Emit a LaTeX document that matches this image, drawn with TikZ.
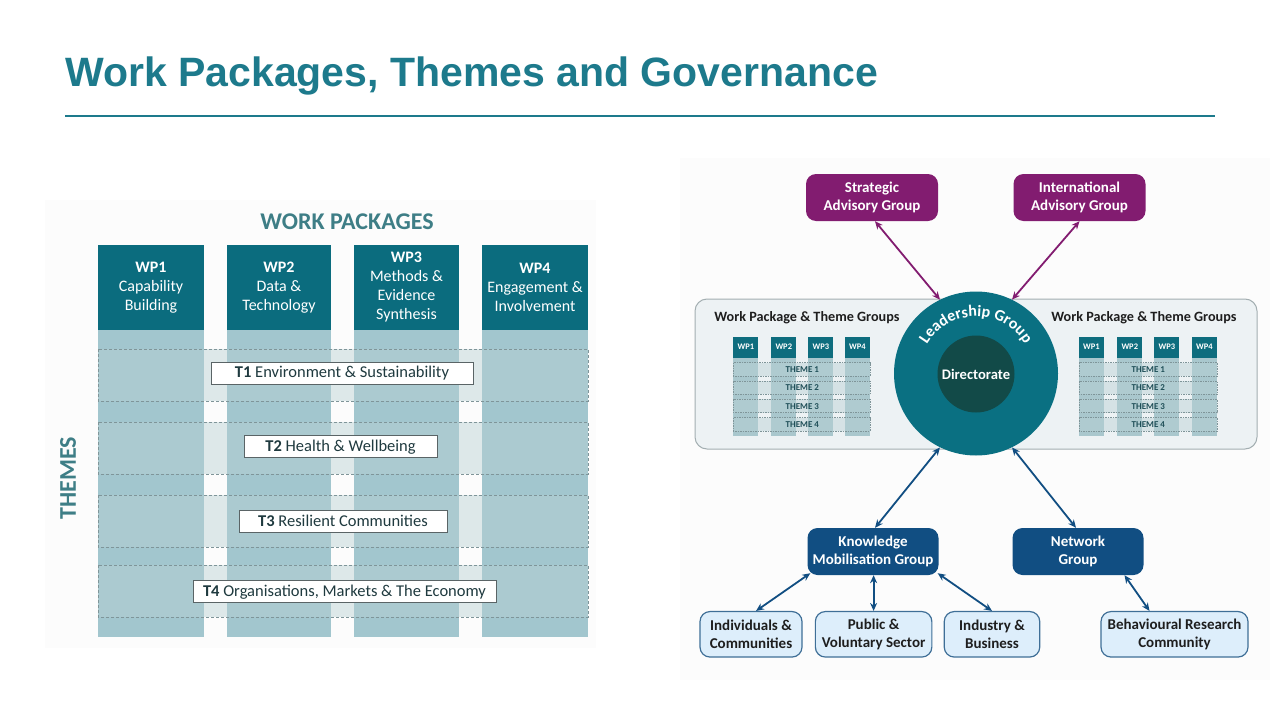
\documentclass[tikz,border=0pt]{standalone}
\usepackage{fontspec}
\setmainfont{Carlito}
\newfontfamily\titlefont{Liberation Sans}
\usetikzlibrary{arrows.meta,decorations.text}
\definecolor{titleteal}{HTML}{1D7A8C}
\definecolor{wphead}{HTML}{0B6C7E}
\definecolor{colbody}{HTML}{A2C6CE}
\definecolor{bandov}{HTML}{B8D0D4}
\definecolor{dashgray}{HTML}{7F9599}
\definecolor{wpktext}{HTML}{3E7E86}
\definecolor{themeborder}{HTML}{5A6466}
\definecolor{faint}{HTML}{FCFCFC}
\definecolor{panelfill}{HTML}{EDF2F4}
\definecolor{panelborder}{HTML}{A3AEB1}
\definecolor{minihead}{HTML}{0E6D7E}
\definecolor{minibody}{HTML}{A9C7CD}
\definecolor{minitext}{HTML}{1F4F58}
\definecolor{leadteal}{HTML}{0A7082}
\definecolor{direct}{HTML}{124A48}
\definecolor{purp}{HTML}{821C70}
\definecolor{kblue}{HTML}{114E82}
\definecolor{lightb}{HTML}{DDEEFB}
\definecolor{stakeborder}{HTML}{3F6F97}
\definecolor{darktext}{HTML}{1E1E1E}
\definecolor{themetext}{HTML}{1F3A3F}
\newcommand\fsz[2]{\fontsize{#1}{#2}\selectfont}
\newcommand\lgfont{\bfseries\fontsize{16}{16}\selectfont}
\tikzset{
  wphd/.style={fill=wphead, text=white, minimum height=85, inner sep=0, align=center, font=\fsz{16}{19}},
  themebox/.style={draw=themeborder, fill=white, line width=1, minimum height=22, inner sep=0, text=themetext, font=\fsz{16.5}{18}},
  dashl/.style={draw=dashgray, line width=.9, dash pattern=on 3 off 2},
  minidash/.style={draw=dashgray, line width=.5, dash pattern=on 1.5 off 1},
  minihd/.style={fill=minihead, text=white, minimum width=25, minimum height=21, inner sep=0, font=\bfseries\fsz{8.5}{9}},
  minitheme/.style={text=minitext, font=\bfseries\fsz{9}{10}, inner sep=0},
  grouplbl/.style={text=darktext, font=\bfseries\fsz{14.2}{16}, inner sep=0},
  govp/.style={fill=purp, text=white, rounded corners=10, minimum width=132, minimum height=47, align=center, font=\bfseries\fsz{15}{18.3}, inner sep=0},
  govb/.style={fill=kblue, text=white, rounded corners=10, minimum width=131, minimum height=47, align=center, font=\bfseries\fsz{15}{18.3}, inner sep=0},
  stake/.style={fill=lightb, draw=stakeborder, line width=1.2, rounded corners=10, minimum height=45.5, align=center, font=\bfseries\fsz{15}{18.3}, text=darktext, inner sep=0},
  parrow/.style={{Stealth[length=8,width=7]}-{Stealth[length=8,width=7]}, line width=1.8, draw=purp},
  barrow/.style={{Stealth[length=8,width=7]}-{Stealth[length=8,width=7]}, line width=1.8, draw=kblue},
}
\begin{document}
\begin{tikzpicture}[x=1pt,y=-1pt]
\useasboundingbox (0,0) rectangle (1280,720);
\fill[white] (0,0) rectangle (1280,720);
\fill[faint] (45,200) rectangle (596,648);
\fill[faint] (680,158) rectangle (1270,680);
% title
\node[anchor=base west, inner sep=0, text=titleteal, font=\titlefont\bfseries\fsz{41}{41}] (title) at (65,86.5) {Work Packages, Themes and Governance};
\coordinate (ruleL) at (65,115.5);
\coordinate (ruleR) at (1215,115.5);
\draw[titleteal, line width=2] (ruleL) -- (ruleR);
% ---------- left diagram ----------
\node[text=wpktext, font=\bfseries\fsz{24}{24}, inner sep=0] (wpk) at (347,222) {WORK PACKAGES};
\node[rotate=90, text=wpktext, font=\bfseries\fsz{24}{24}, inner sep=0] (themes) at (68,478) {THEMES};
\foreach \a/\b in {98/204,227/331,354/459,482/588}
  \fill[colbody] (\a,330) rectangle (\b,637);
\foreach \t/\u in {349/401,422/474,495/547,565/617}{
  \fill[bandov, opacity=.45] (98,\t) rectangle (588,\u);
  \draw[dashl] (98,\t) rectangle (588,\u);
}
\node[wphd, minimum width=106] (wp1) at (151,287.5) {\textbf{WP1}\\Capability\\Building};
\node[wphd, minimum width=104] (wp2) at (279,287.5) {\textbf{WP2}\\Data \&\\Technology};
\node[wphd, minimum width=105] (wp3) at (406.5,287.5) {\textbf{WP3}\\Methods \&\\Evidence\\Synthesis};
\node[wphd, minimum width=106] (wp4) at (535,287.5) {\textbf{WP4}\\Engagement \&\\Involvement};
\node[themebox, minimum width=262] (t1) at (342,373) {\textbf{T1} Environment \& Sustainability};
\node[themebox, minimum width=193] (t2) at (340.5,446.7) {\textbf{T2} Health \& Wellbeing};
\node[themebox, minimum width=208] (t3) at (343,521) {\textbf{T3} Resilient Communities};
\node[themebox, minimum width=303] (t4) at (344.5,591.7) {\textbf{T4} Organisations, Markets \& The Economy};
% ---------- right diagram ----------
\node[draw=panelborder, fill=panelfill, rounded corners=12, line width=1, minimum width=562, minimum height=150, inner sep=0] (panel) at (976,374) {};
\node[grouplbl] (lblL) at (807,318) {Work Package \& Theme Groups};
\node[grouplbl] (lblR) at (1144,318) {Work Package \& Theme Groups};
\foreach \s/\xa/\xb/\xc/\xd in {L/733.4/771.3/808.4/845, R/1079/1117.3/1154.4/1192}{
  \foreach \x in {\xa,\xb,\xc,\xd}
    \fill[minibody] (\x,357) rectangle (\x+25,435.5);
  \foreach \t/\u in {362.7/376,381/394.3,399.3/412.7,417.7/431}{
    \fill[bandov, opacity=.45] (\xa,\t) rectangle (\xd+25,\u);
    \draw[minidash] (\xa,\t) rectangle (\xd+25,\u);
  }
  \node[minihd] (\s-wp1) at (\xa+12.5,347) {WP1};
  \node[minihd] (\s-wp2) at (\xb+12.5,347) {WP2};
  \node[minihd] (\s-wp3) at (\xc+12.5,347) {WP3};
  \node[minihd] (\s-wp4) at (\xd+12.5,347) {WP4};
  \node[minitheme] (\s-th1) at ({(\xb+25+\xc)/2},369.5) {THEME 1};
  \node[minitheme] (\s-th2) at ({(\xb+25+\xc)/2},387.8) {THEME 2};
  \node[minitheme] (\s-th3) at ({(\xb+25+\xc)/2},406.1) {THEME 3};
  \node[minitheme] (\s-th4) at ({(\xb+25+\xc)/2},424.4) {THEME 4};
}
\node[circle, fill=leadteal, minimum size=164, inner sep=0] (lead) at (976,373.5) {};
\node[circle, fill=direct, minimum size=77, inner sep=0, text=white, font=\bfseries\fsz{14.6}{15}] (dir) at (976,374) {Directorate};
\begin{scope}[shift={(lead.center)}, x=1pt, y=1pt]
  \path[decorate, decoration={text along path, text align=center, text color=white, text={|\lgfont|Leadership Group}}]
    (145:57) arc[start angle=145, end angle=35, radius=57];
\end{scope}
\node[govp] (sag) at (872,197.5) {Strategic\\Advisory Group};
\node[govp] (iag) at (1079.5,197.5) {International\\Advisory Group};
\node[govb] (kmg) at (873,551.5) {Knowledge\\Mobilisation Group};
\node[govb] (net) at (1078,551.5) {Network\\Group};
\node[stake, minimum width=102] (ind) at (751,634.3) {Individuals \&\\Communities};
\node[stake, minimum width=116.5] (pub) at (873.6,634.3) {Public \&\\Voluntary Sector};
\node[stake, minimum width=95.5] (indb) at (992,634.3) {Industry \&\\Business};
\node[stake, minimum width=147] (beh) at (1174.5,634.3) {Behavioural Research\\Community};
% arrows
\draw[parrow] ([xshift=3pt]sag.south) -- (lead.116);
\draw[parrow] (iag.south) -- (lead.64);
\draw[barrow] (lead.244) -- ([xshift=2pt]kmg.north);
\draw[barrow] (lead.296) -- ([xshift=-2pt]net.north);
\draw[barrow] ([xshift=3pt,yshift=2pt]kmg.south west) -- ([xshift=5pt]ind.north);
\draw[barrow] ([xshift=0.6pt]kmg.south) -- (pub.north);
\draw[barrow] ([xshift=-1pt,yshift=2pt]kmg.south east) -- (indb.north);
\draw[barrow] ([xshift=46.5pt]net.south) -- ([xshift=-25pt]beh.north);
\end{tikzpicture}
\end{document}
